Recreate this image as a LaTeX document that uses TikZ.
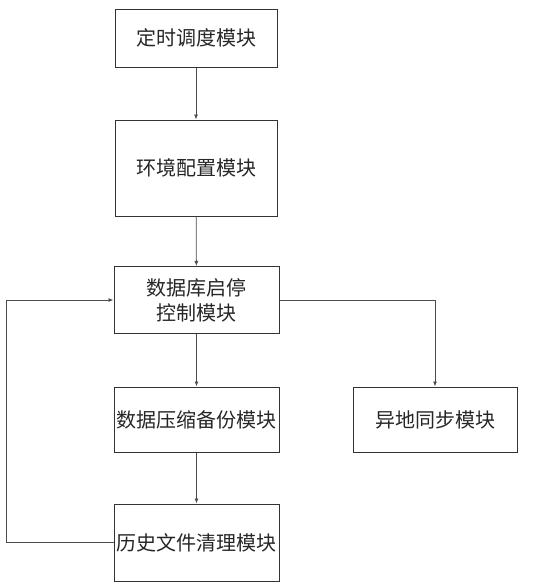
\documentclass[tikz,border=0pt]{standalone}
\usepackage{fontspec}
\newfontfamily\cjk{Noto Sans CJK SC}
\usetikzlibrary{arrows.meta}
\begin{document}
\begin{tikzpicture}[x=1pt,y=-1pt,
  box/.style={draw=black!80, line width=1pt, inner sep=0pt, align=center,
    font=\cjk\fontsize{20}{25}\selectfont, text=black!85},
  conn/.style={draw=black!70, line width=0.8pt, -{Latex[length=5pt,width=4pt]}},
  plain/.style={draw=black!70, line width=0.8pt}]
\useasboundingbox (0,0) rectangle (540,587);
\node[box, minimum width=162pt, minimum height=58pt] (sched) at (196,38) {定时调度模块};
\node[box, minimum width=162pt, minimum height=96pt] (env) at (196,168) {环境配置模块};
\node[box, minimum width=165pt, minimum height=67pt] (db) at (196.5,300) {数据库启停\\控制模块};
\node[box, minimum width=165pt, minimum height=65pt] (bak) at (196.5,419.5) {数据压缩备份模块};
\node[box, minimum width=165pt, minimum height=77pt] (clean) at (196.5,542.5) {历史文件清理模块};
\node[box, minimum width=164pt, minimum height=65pt] (sync) at (435,419.5) {异地同步模块};
\coordinate (lb) at (6,542.5);
\coordinate (lt) at (6,300);
\coordinate (rt) at (435,300);
\draw[conn] (sched) -- (env);
\draw[conn] (env) -- (db);
\draw[conn] (db) -- (bak);
\draw[conn] (bak) -- (clean);
\draw[conn] (clean.west) -- (lb) -- (lt) -- (db.west);
\draw[conn] (db.east) -- (rt) -- (sync.north);
\end{tikzpicture}
\end{document}
